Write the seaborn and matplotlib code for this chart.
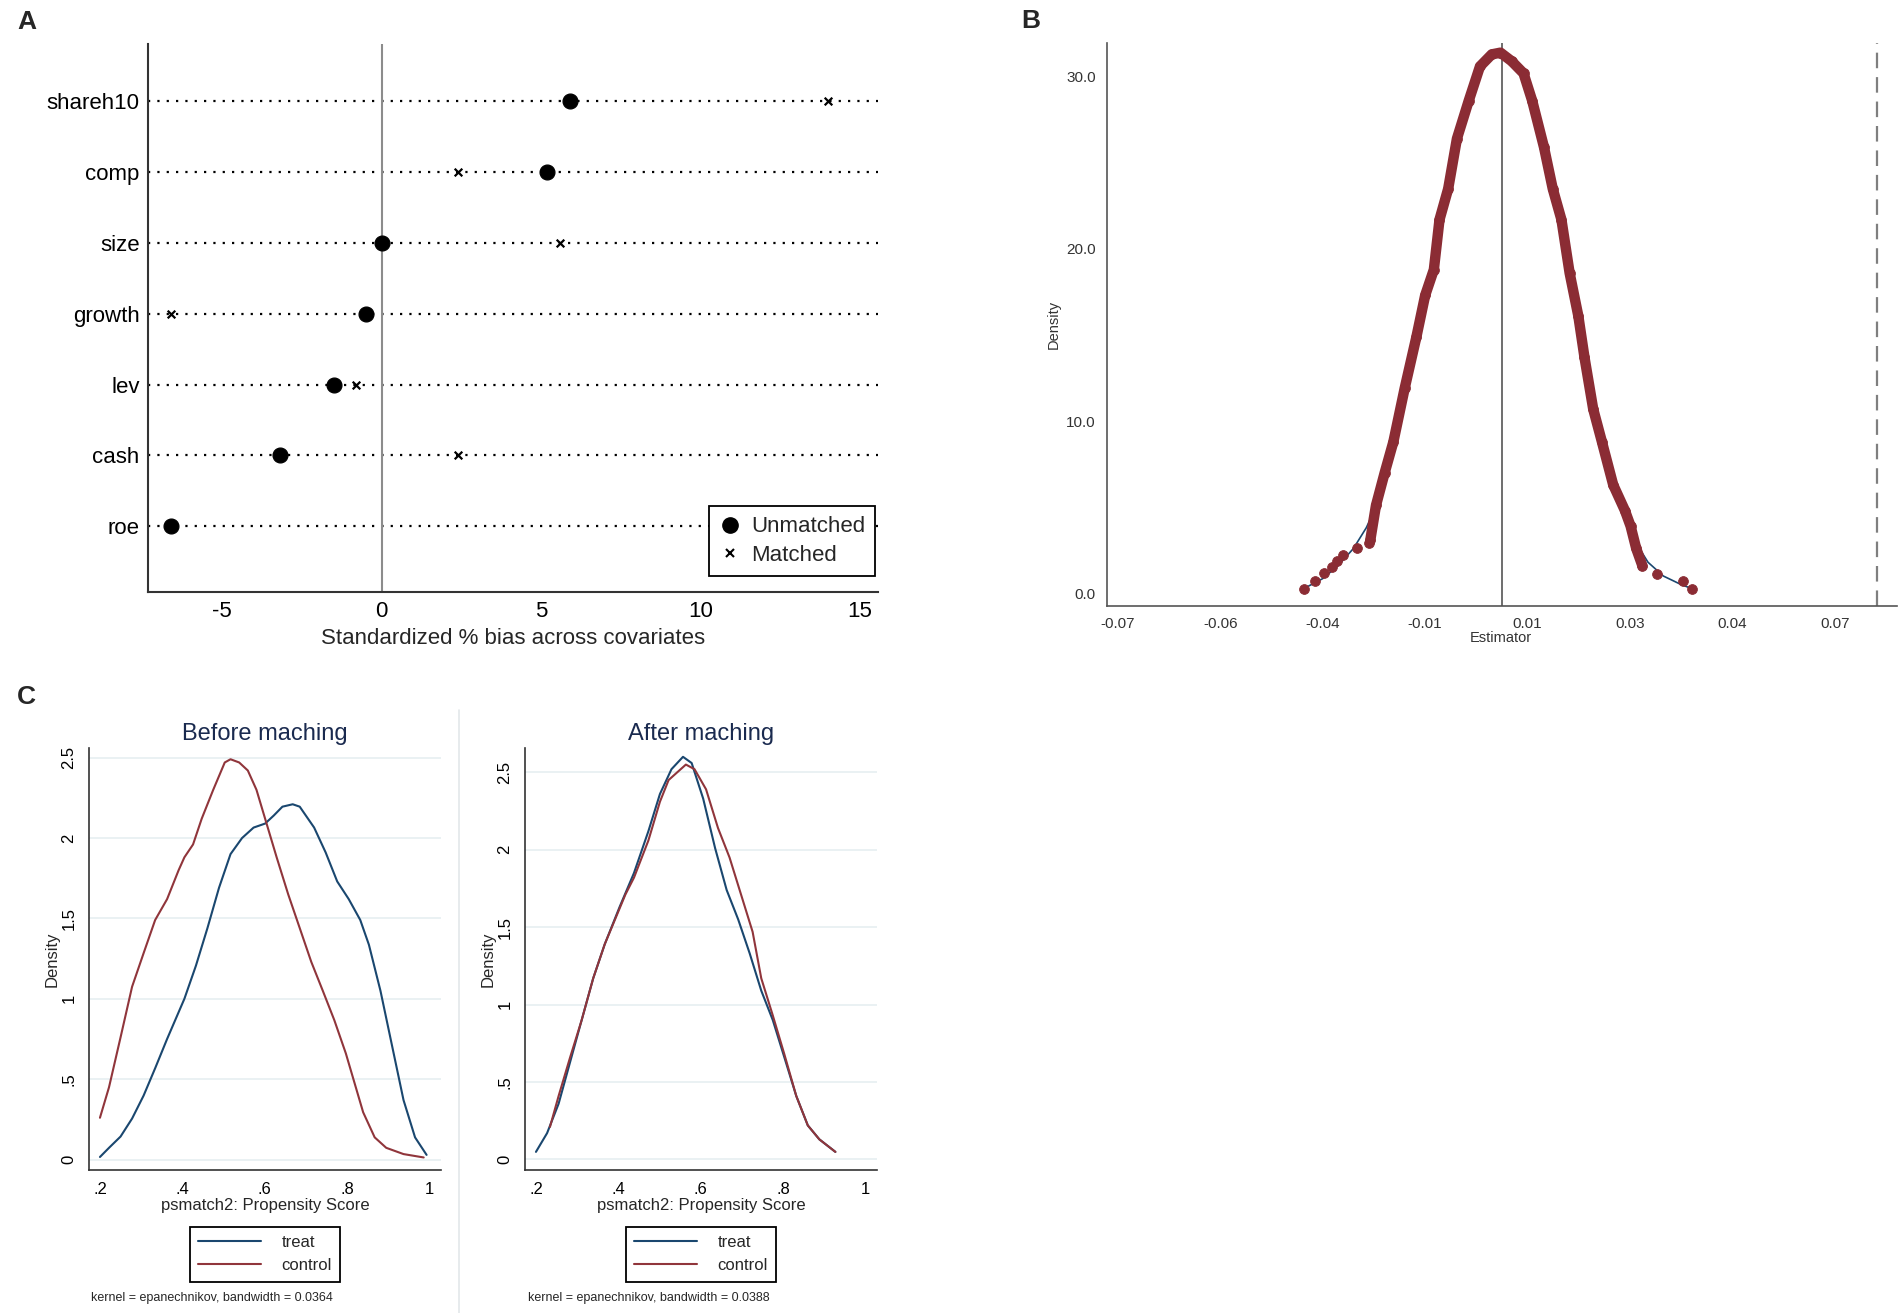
import numpy as np
import pandas as pd
import matplotlib
matplotlib.use("Agg")
import matplotlib.pyplot as plt
from matplotlib.lines import Line2D
import seaborn as sns

sns.set_style("white")
plt.rcParams['font.family'] = ['Liberation Sans', 'DejaVu Sans']

# ---------------- Panel A data ----------------
covariates = ["shareh10", "comp", "size", "growth", "lev", "cash", "roe"]
bias_unmatched = [5.9, 5.2, 0.0, -0.5, -1.5, -3.2, -6.6]
bias_matched = [14.0, 2.4, 5.6, -6.6, -0.8, 2.4, 12.5]
a_xticks = [-5, 0, 5, 10, 15]

# ---------------- Panel B data ----------------
b_body_x = [-0.0207, -0.0196, -0.0179, -0.0162, -0.0140, -0.0117, -0.0100, -0.0083,
            -0.0072, -0.0055, -0.0038, -0.0015, 0.0007, 0.0030, 0.0047, 0.0069,
            0.0092, 0.0109, 0.0132, 0.0149, 0.0166, 0.0182, 0.0199, 0.0211,
            0.0228, 0.0245, 0.0267, 0.0290, 0.0301, 0.0312, 0.0324]
b_body_y = [3.1, 5.1, 7.0, 8.8, 11.9, 14.9, 17.3, 18.8,
            21.7, 23.5, 26.4, 28.6, 30.6, 31.3, 31.4, 30.9,
            30.2, 28.6, 25.9, 23.5, 21.7, 18.6, 16.1, 13.7,
            10.7, 8.8, 6.3, 4.8, 3.9, 2.6, 1.6]
b_tail_x = [-0.0337, -0.0315, -0.0298, -0.0281, -0.0272, -0.0260, -0.0233, -0.0210,
            0.0352, 0.0404, 0.0420]
b_tail_y = [0.25, 0.71, 1.15, 1.52, 1.89, 2.25, 2.62, 2.92,
            1.10, 0.71, 0.25]
b_norm_x = [-0.0335, -0.0300, -0.0270, -0.0240, -0.0215, -0.0196, -0.0179, -0.0162,
            -0.0140, -0.0117, -0.0100, -0.0083, -0.0055, -0.0038, -0.0015, 0.0007,
            0.0030, 0.0047, 0.0069, 0.0092, 0.0109, 0.0132, 0.0149, 0.0166,
            0.0182, 0.0199, 0.0228, 0.0245, 0.0267, 0.0290, 0.0312, 0.0335,
            0.0365, 0.0400, 0.0418]
b_norm_y = [0.30, 0.85, 1.60, 2.60, 3.80, 5.00, 6.70, 8.60,
            11.8, 14.9, 17.3, 19.6, 23.5, 26.4, 28.9, 30.6,
            31.3, 31.4, 30.9, 30.2, 28.6, 25.9, 23.5, 21.2,
            18.6, 16.1, 10.9, 8.8, 6.3, 4.6, 2.9, 1.8,
            1.0, 0.50, 0.30]
b_tick_pos = [-0.07, -0.05, -0.03, -0.01, 0.01, 0.03, 0.05, 0.07]
b_tick_lab = ["-0.07", "-0.06", "-0.04", "-0.01", "0.01", "0.03", "0.04", "0.07"]
b_yticks = [0, 10, 20, 30]
b_vline = 0.005
b_dashline = 0.0782

# ---------------- Panel C data ----------------
before_treat_x = [0.200, 0.222, 0.250, 0.278, 0.306, 0.334, 0.363, 0.405, 0.433, 0.461,
                  0.489, 0.517, 0.545, 0.573, 0.601, 0.622, 0.643, 0.668, 0.685, 0.720,
                  0.748, 0.776, 0.804, 0.832, 0.853, 0.881, 0.909, 0.937, 0.965, 0.993]
before_treat_y = [0.016, 0.073, 0.143, 0.255, 0.398, 0.568, 0.750, 1.000, 1.206, 1.440,
                  1.690, 1.900, 2.000, 2.065, 2.090, 2.140, 2.195, 2.210, 2.195, 2.065,
                  1.910, 1.730, 1.620, 1.490, 1.336, 1.050, 0.710, 0.370, 0.138, 0.029]
before_ctrl_x = [0.200, 0.222, 0.250, 0.278, 0.306, 0.334, 0.363, 0.391, 0.405, 0.426,
                 0.447, 0.475, 0.503, 0.517, 0.538, 0.559, 0.580, 0.601, 0.629, 0.657,
                 0.685, 0.713, 0.741, 0.769, 0.797, 0.818, 0.839, 0.867, 0.895, 0.937, 0.986]
before_ctrl_y = [0.260, 0.450, 0.760, 1.075, 1.284, 1.490, 1.620, 1.800, 1.880, 1.960,
                 2.120, 2.300, 2.470, 2.490, 2.470, 2.420, 2.300, 2.120, 1.880, 1.650,
                 1.440, 1.230, 1.050, 0.867, 0.660, 0.477, 0.294, 0.138, 0.073, 0.034, 0.013]
after_treat_x = [0.200, 0.227, 0.255, 0.283, 0.311, 0.339, 0.367, 0.403, 0.438, 0.473,
                 0.501, 0.529, 0.557, 0.578, 0.606, 0.635, 0.663, 0.691, 0.719, 0.747,
                 0.775, 0.803, 0.832, 0.860, 0.888, 0.927]
after_treat_y = [0.049, 0.170, 0.360, 0.630, 0.900, 1.170, 1.390, 1.630, 1.850, 2.120,
                 2.360, 2.520, 2.600, 2.560, 2.330, 2.010, 1.740, 1.550, 1.330, 1.090,
                 0.900, 0.660, 0.410, 0.220, 0.130, 0.049]
after_ctrl_x = [0.234, 0.255, 0.283, 0.311, 0.339, 0.367, 0.417, 0.438, 0.473, 0.501,
                0.522, 0.564, 0.585, 0.613, 0.642, 0.670, 0.698, 0.726, 0.747, 0.775,
                0.803, 0.832, 0.860, 0.888, 0.927]
after_ctrl_y = [0.210, 0.410, 0.660, 0.900, 1.170, 1.390, 1.710, 1.820, 2.060, 2.310,
                2.450, 2.550, 2.520, 2.390, 2.140, 1.950, 1.710, 1.470, 1.170, 0.930,
                0.680, 0.410, 0.220, 0.130, 0.049]
c_xticks = [0.2, 0.4, 0.6, 0.8, 1.0]
c_xlabels = [".2", ".4", ".6", ".8", "1"]
c_yticks = [0, 0.5, 1, 1.5, 2, 2.5]
c_ylabels = ["0", ".5", "1", "1.5", "2", "2.5"]
bandwidths = ["0.0364", "0.0388"]

BLUE = "#1a476f"
RED = "#90353b"
BRED = "#8b2c34"

W, H = 1902, 1313
fig = plt.figure(figsize=(W / 100, H / 100), dpi=100)
fig.patch.set_facecolor("white")


def frac(l, t, r, b):
    return [l / W, 1 - b / H, (r - l) / W, (b - t) / H]


# ================= Panel A =================
axA = fig.add_axes(frac(148, 44, 878, 592))
ypos = list(range(len(covariates)))
dfA = pd.DataFrame({"cov": covariates, "y": ypos,
                    "unm": bias_unmatched, "mat": bias_matched})
for yy in ypos:
    axA.axhline(yy, color="black", lw=1.6, ls=(0, (1, 3.2)), zorder=1)
axA.axvline(0, color="#8c8c8c", lw=1.5, zorder=1)
sns.scatterplot(data=dfA, x="mat", y="y", ax=axA, marker="x", s=30, color="black",
                linewidth=1.6, zorder=3, legend=False)
sns.scatterplot(data=dfA, x="unm", y="y", ax=axA, marker="o", s=115, color="black",
                edgecolor="black", zorder=3, legend=False)
axA.set_xlim(-7.33, 15.57)
axA.set_ylim(6.926, -0.806)
axA.set_yticks(ypos)
axA.set_yticklabels(covariates)
axA.set_xticks(a_xticks)
axA.set_xticklabels([str(v) for v in a_xticks])
axA.tick_params(axis="y", length=0, labelsize=16, pad=6, colors="black")
axA.tick_params(axis="x", length=5, width=1.2, direction="out", labelsize=16,
                colors="black", pad=1.5)
axA.set_xlabel("Standardized % bias across covariates", fontsize=16)
axA.xaxis.set_label_coords(0.5, -0.066)
axA.set_ylabel("")
for side in ["top", "right"]:
    axA.spines[side].set_visible(False)
for side in ["left", "bottom"]:
    axA.spines[side].set_color("#333333")
    axA.spines[side].set_linewidth(1.5)
hA = [Line2D([], [], marker="o", color="black", ls="none", markersize=11),
      Line2D([], [], marker="x", color="black", ls="none", markersize=5.5, mew=1.5)]
legA = axA.legend(hA, ["Unmatched", "Matched"], loc="lower right",
                  bbox_to_anchor=(0.9965, 0.029), borderaxespad=0, fontsize=16,
                  frameon=True, fancybox=False, edgecolor="black", framealpha=1,
                  handletextpad=0.45, borderpad=0.45, labelspacing=0.35,
                  handlelength=1.0)
legA.get_frame().set_linewidth(1.3)
legA.set_zorder(5)
fig.text(17 / W, 1 - 22 / H, "A", fontsize=19, fontweight="bold", va="center", ha="left")

# ================= Panel B =================
axB = fig.add_axes(frac(1107, 43, 1897, 606))
axB.axvline(b_vline, color="#555555", lw=1.2, zorder=1)
axB.axvline(b_dashline, color="#7f7f7f", lw=1.6, ls=(0, (7, 4)), zorder=1)
dfB1 = pd.DataFrame({"x": b_body_x, "y": b_body_y})
dfB2 = pd.DataFrame({"x": b_tail_x, "y": b_tail_y})
dfBn = pd.DataFrame({"x": b_norm_x, "y": b_norm_y})
sns.lineplot(data=dfBn, x="x", y="y", ax=axB, color=BLUE, lw=1.2, sort=False,
             zorder=2)
sns.lineplot(data=dfB1, x="x", y="y", ax=axB, color=BRED, lw=7.5, sort=False,
             zorder=3, solid_capstyle="round", solid_joinstyle="round")
sns.scatterplot(data=dfB1, x="x", y="y", ax=axB, color=BRED, s=50, edgecolor=BRED,
                zorder=4, legend=False)
sns.scatterplot(data=dfB2, x="x", y="y", ax=axB, color=BRED, s=50, edgecolor=BRED,
                zorder=4, legend=False)
axB.set_xlim(-0.0721, 0.0821)
axB.set_ylim(-0.74, 31.96)
axB.set_xticks(b_tick_pos)
axB.set_xticklabels(b_tick_lab)
axB.set_yticks(b_yticks)
axB.set_yticklabels([f"{v:.1f}" for v in b_yticks])
axB.tick_params(axis="both", length=5, width=1, direction="out", labelsize=11,
                colors="#333333", pad=3)
axB.set_xlabel("Estimator", fontsize=10.5, color="#333333")
axB.xaxis.set_label_coords(0.498, -0.045)
axB.set_ylabel("Density", fontsize=10.5, color="#333333")
axB.yaxis.set_label_coords(-0.058, 0.5)
for side in ["top", "right"]:
    axB.spines[side].set_visible(False)
for side in ["left", "bottom"]:
    axB.spines[side].set_color("#555555")
    axB.spines[side].set_linewidth(1.2)
fig.text(1021 / W, 1 - 21 / H, "B", fontsize=19, fontweight="bold", va="center", ha="left")

# ================= Panel C =================
fig.text(17 / W, 1 - 697 / H, "C", fontsize=19, fontweight="bold", va="center", ha="left")
fig.add_artist(Line2D([459 / W, 459 / W], [0, 1 - 710 / H], color="#e3e7ea", lw=1.2))

panels = [
    ("Before maching", before_treat_x, before_treat_y, before_ctrl_x, before_ctrl_y,
     89, (-0.065, 2.56), bandwidths[0], 91),
    ("After maching", after_treat_x, after_treat_y, after_ctrl_x, after_ctrl_y,
     525, (-0.068, 2.657), bandwidths[1], 528),
]
for title, tx, ty, cx, cy, left, ylim, bw, notex in panels:
    ax = fig.add_axes(frac(left, 748, left + 352, 1170))
    for yv in c_yticks:
        ax.axhline(yv, color="#e6eff1", lw=1.2, zorder=0)
    dft = pd.DataFrame({"x": tx, "y": ty})
    dfc = pd.DataFrame({"x": cx, "y": cy})
    sns.lineplot(data=dft, x="x", y="y", ax=ax, color=BLUE, lw=1.5, sort=False,
                 label="treat")
    sns.lineplot(data=dfc, x="x", y="y", ax=ax, color=RED, lw=1.5, sort=False,
                 label="control")
    ax.set_xlim(0.1734, 1.028)
    ax.set_ylim(*ylim)
    ax.set_xticks(c_xticks)
    ax.set_xticklabels(c_xlabels)
    ax.set_yticks(c_yticks)
    ax.set_yticklabels(c_ylabels, rotation=90, va="center")
    ax.tick_params(axis="both", length=6, width=1, direction="out", labelsize=12,
                   colors="black", pad=3)
    ax.set_title(title, fontsize=17, color="#1a2a4f", pad=6)
    ax.set_xlabel("psmatch2: Propensity Score", fontsize=12)
    ax.xaxis.set_label_coords(0.5, -0.066)
    ax.set_ylabel("Density", fontsize=12)
    ax.yaxis.set_label_coords(-0.083, 0.5)
    for side in ["top", "right"]:
        ax.spines[side].set_visible(False)
    for side in ["left", "bottom"]:
        ax.spines[side].set_color("#333333")
        ax.spines[side].set_linewidth(1.2)
    leg = ax.legend(loc="upper center", bbox_to_anchor=(0.5, -0.134), borderaxespad=0,
                    fontsize=12, frameon=True, fancybox=False, edgecolor="black",
                    framealpha=1, handlelength=3.8, handletextpad=1.2, borderpad=0.5,
                    labelspacing=0.5)
    leg.get_frame().set_linewidth(1.3)
    fig.text(notex / W, 1 - 1298 / H, f"kernel = epanechnikov, bandwidth = {bw}",
             fontsize=9, va="center", ha="left")

fig.savefig("out.png", dpi=100, facecolor="white")
